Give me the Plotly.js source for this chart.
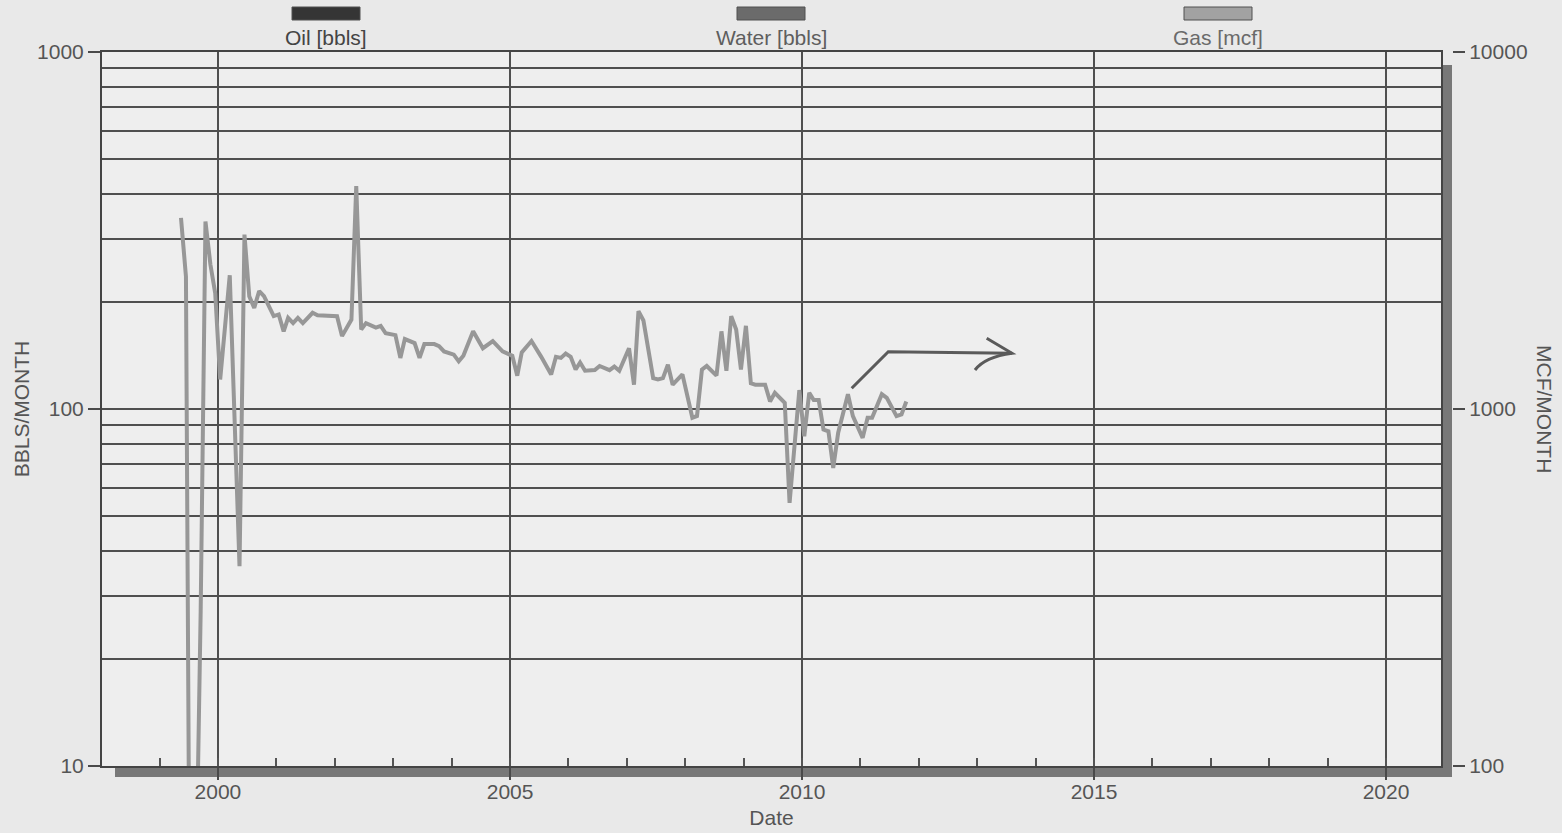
<!DOCTYPE html>
<html>
<head>
<meta charset="utf-8">
<script src="https://cdn.plot.ly/plotly-3.0.1.min.js"></script>
<style>html,body{margin:0;padding:0;background:#e9e9e9;}#chart{width:1562px;height:833px;}</style>
</head>
<body>
<div id="chart"></div>
<script>
// ---- data ----
const months = [
 '1999-05-15','1999-06-15','1999-07-15','1999-08-15','1999-09-15','1999-10-15','1999-11-15','1999-12-15',
 '2000-01-15','2000-03-15','2000-05-15','2000-06-15','2000-07-15','2000-08-15','2000-09-15','2000-10-15','2000-12-15',
 '2001-01-15','2001-02-15','2001-03-15','2001-04-15','2001-05-15','2001-06-15','2001-08-15','2001-09-15','2001-11-15',
 '2002-01-15','2002-02-15','2002-04-15','2002-05-15','2002-06-15','2002-07-15','2002-08-15','2002-09-15','2002-10-15','2002-11-15',
 '2003-01-15','2003-02-15','2003-03-15','2003-05-15','2003-06-15','2003-07-15','2003-09-15','2003-10-15','2003-11-15',
 '2004-01-15','2004-02-15','2004-03-15','2004-05-15','2004-07-15','2004-09-15','2004-11-15',
 '2005-01-15','2005-02-15','2005-03-15','2005-05-15','2005-07-15','2005-09-15','2005-10-15','2005-11-15','2005-12-15',
 '2006-01-15','2006-02-15','2006-03-15','2006-04-15','2006-06-15','2006-07-15','2006-09-15','2006-10-15','2006-11-15',
 '2007-01-15','2007-02-15','2007-03-15','2007-04-15','2007-06-15','2007-07-15','2007-08-15','2007-09-15','2007-10-15','2007-12-15',
 '2008-02-15','2008-03-15','2008-04-15','2008-05-15','2008-07-15','2008-08-15','2008-09-15','2008-10-15','2008-11-15','2008-12-15',
 '2009-01-15','2009-02-15','2009-03-15','2009-05-15','2009-06-15','2009-07-15','2009-09-15','2009-10-15','2009-12-15',
 '2010-01-15','2010-02-15','2010-03-15','2010-04-15','2010-05-15','2010-06-15','2010-07-15','2010-08-15','2010-10-15','2010-11-15',
 '2011-01-15','2011-02-15','2011-03-15','2011-05-15','2011-06-15','2011-08-15','2011-09-15','2011-10-15'
];
const gasMcf = [
 3430,2350,10,40,270,3350,2540,2110,
 1210,2370,363,3080,2070,1920,2140,2070,1820,
 1840,1650,1800,1740,1800,1740,1860,1830,1820,
 1820,1600,1780,4210,1670,1740,1710,1690,1710,1630,
 1610,1390,1570,1530,1390,1520,1520,1500,1450,
 1420,1360,1410,1650,1480,1550,1450,
 1410,1240,1440,1550,1400,1250,1400,1390,1430,
 1400,1290,1350,1280,1285,1320,1285,1315,1280,
 1480,1170,1880,1770,1220,1210,1220,1330,1170,1250,
 945,956,1290,1320,1240,1650,1280,1820,1670,1290,
 1710,1180,1170,1170,1050,1110,1040,546,1130,
 839,1110,1060,1060,876,866,684,858,1100,955,
 830,945,945,1100,1075,955,965,1050
];
const legendNames = ['Oil [bbls]', 'Water [bbls]', 'Gas [mcf]'];
const legendFill = ['#353535', '#6b6b6b', '#a2a2a2'];
const legendText = ['#444444', '#5e5e5e', '#6a6a6a'];
const leftTickVals = [10, 100, 1000];
const leftTickText = ['10', '100', '1000'];
const leftMinorVals = [20,30,40,50,60,70,80,90,200,300,400,500,600,700,800,900];
const rightTickVals = [100, 1000, 10000];
const rightTickText = ['100', '1000', '10000'];

// ---- layout helpers ----
const W = 1562, H = 833, L = 102, R = 110, T = 52, B = 67;
const PW = W - L - R, PH = H - T - B;           // paper area in px
const plotRightPx = 1441;
const px = x => (x - L) / PW;                    // pixel -> paper x
const py = y => (H - B - y) / PH;                // pixel -> paper y
const FONT = 'Liberation Sans, Arial, Helvetica, sans-serif';
const gridC = '#4f4f4f';

const shapes = [];
const annotations = [];

// drop shadow of the frame
shapes.push({type:'rect', xref:'paper', yref:'paper', layer:'below',
  x0:px(115), x1:px(1452), y0:py(777), y1:py(766), fillcolor:'#787878', line:{width:0}});
shapes.push({type:'rect', xref:'paper', yref:'paper', layer:'below',
  x0:px(plotRightPx), x1:px(1452), y0:py(777), y1:py(65), fillcolor:'#787878', line:{width:0}});

// legend (swatch above its label)
const legendCenters = [326, 771, 1218];
legendNames.forEach((name, i) => {
  const c = legendCenters[i];
  shapes.push({type:'rect', xref:'paper', yref:'paper',
    x0:px(c - 34), x1:px(c + 34), y0:py(20), y1:py(7),
    fillcolor:legendFill[i], line:{color:'#505050', width:1}});
  annotations.push({xref:'paper', yref:'paper', x:px(c), y:py(37), text:name,
    showarrow:false, xanchor:'center', yanchor:'middle',
    font:{family:FONT, size:21, color:legendText[i]}});
});

// hand-drawn arrow
shapes.push({type:'path', xref:'paper', yref:'paper', layer:'above',
  path:`M ${px(851.7)} ${py(388.3)} L ${px(888.3)} ${py(351.7)} L ${px(1012)} ${py(353.3)}`,
  line:{color:'#5a5a5a', width:3}});
shapes.push({type:'path', xref:'paper', yref:'paper', layer:'above',
  path:`M ${px(986.7)} ${py(338.3)} L ${px(1012)} ${py(353.3)} Q ${px(985)} ${py(357)} ${px(975)} ${py(370)}`,
  line:{color:'#5a5a5a', width:3}});

// right axis title (reads top to bottom)
annotations.push({xref:'paper', yref:'paper', x:px(1545), y:py(409), text:'MCF/MONTH',
  textangle:90, showarrow:false, xanchor:'center', yanchor:'middle',
  font:{family:FONT, size:21, color:'#555'}});

const traces = [
  // empty trace so that the left (BBLS) axis and its grid are drawn
  {type:'scatter', mode:'lines', x:[], y:[], xaxis:'x', yaxis:'y', showlegend:false, hoverinfo:'skip'},
  {type:'scatter', mode:'lines', name:'Gas [mcf]', x:months, y:gasMcf, xaxis:'x', yaxis:'y2',
   line:{color:'#979797', width:4}, showlegend:false, hoverinfo:'x+y'}
];

const layout = {
  width:W, height:H,
  margin:{l:L, r:R, t:T, b:B, pad:0},
  paper_bgcolor:'#e9e9e9', plot_bgcolor:'#eeeeee',
  showlegend:false,
  font:{family:FONT, color:'#555', size:21},
  xaxis:{
    type:'date', domain:[0, (plotRightPx - L) / PW],
    range:['1998-01-06','2020-12-10'],
    tick0:'2000-01-01', dtick:'M60', tickformat:'%Y',
    ticks:'outside', ticklen:12, tickwidth:2, tickcolor:'#4a4a4a',
    ticklabelstandoff:-6,
    showgrid:true, gridcolor:gridC, gridwidth:2,
    minor:{tick0:'2000-01-01', dtick:'M12', ticks:'inside', ticklen:8, tickwidth:2, tickcolor:'#555', showgrid:false},
    showline:true, linecolor:'#444', linewidth:2, mirror:true, zeroline:false,
    tickfont:{family:FONT, size:21, color:'#555'},
    title:{text:'Date', font:{family:FONT, size:21, color:'#555'}, standoff:8},
    fixedrange:true
  },
  yaxis:{
    type:'log', range:[1, 3],
    tickmode:'array', tickvals:leftTickVals, ticktext:leftTickText,
    ticks:'outside', ticklen:12, tickwidth:2, tickcolor:'#4a4a4a',
    showgrid:true, gridcolor:gridC, gridwidth:2,
    minor:{tickmode:'array', tickvals:leftMinorVals, ticks:'', showgrid:true, gridcolor:gridC, gridwidth:2},
    showline:true, linecolor:'#444', linewidth:2, mirror:true, zeroline:false,
    tickfont:{family:FONT, size:21, color:'#555'},
    title:{text:'BBLS/MONTH', font:{family:FONT, size:21, color:'#555'}, standoff:2},
    fixedrange:true
  },
  yaxis2:{
    type:'log', range:[2, 4], overlaying:'y', side:'right', anchor:'free', position:1,
    tickmode:'array', tickvals:rightTickVals, ticktext:rightTickText,
    ticks:'outside', ticklen:12, tickwidth:2, tickcolor:'#4a4a4a',
    showgrid:false, showline:false, zeroline:false,
    tickfont:{family:FONT, size:21, color:'#555'},
    fixedrange:true
  },
  shapes:shapes,
  annotations:annotations
};

Plotly.newPlot('chart', traces, layout, {displayModeBar:false, staticPlot:true});
</script>
</body>
</html>
